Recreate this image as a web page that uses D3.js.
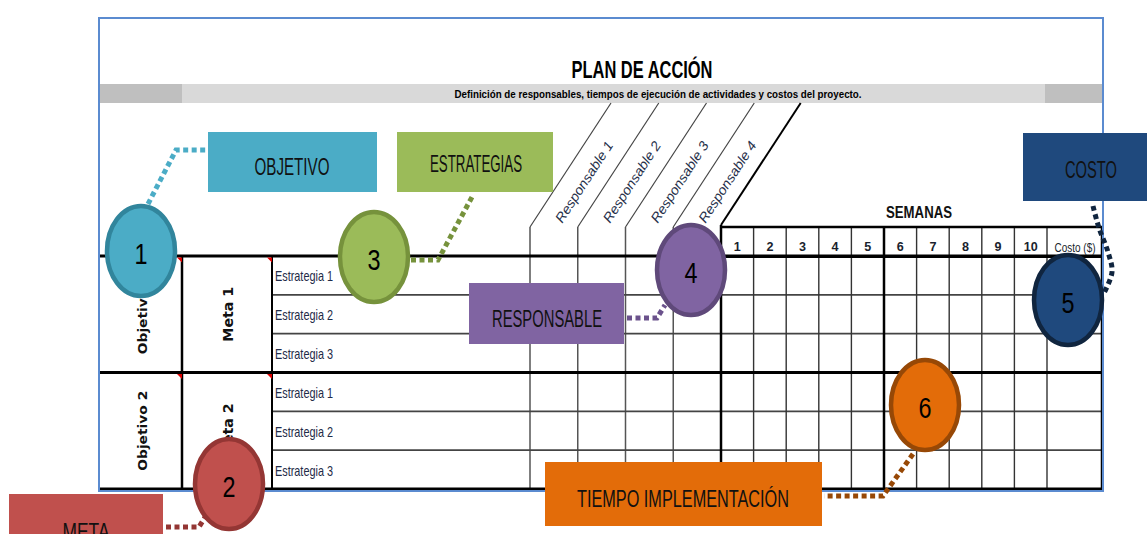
<!DOCTYPE html>
<html><head><meta charset="utf-8">
<script src="https://cdn.jsdelivr.net/npm/d3@7"></script>
<style>html,body{margin:0;padding:0;background:#fff;overflow:hidden}</style>
</head><body>
<svg id="c" width="1147" height="534"></svg>
<script>
// ---- data ----
const titulo = "PLAN DE ACCIÓN";
const subtitulo = "Definición de responsables, tiempos de ejecución de actividades y costos del proyecto.";
const objetivos = ["Objetivo 1", "Objetivo 2"];
const metas = ["Meta 1", "Meta 2"];
const estrategias = ["Estrategia 1", "Estrategia 2", "Estrategia 3"];
const responsables = ["Responsable 1", "Responsable 2", "Responsable 3", "Responsable 4"];
const semanas = ["1", "2", "3", "4", "5", "6", "7", "8", "9", "10"];
const semanasTitulo = "SEMANAS";
const costoTitulo = "Costo ($)";
const calloutNumeros = ["1", "2", "3", "4", "5", "6"];
const calloutEtiquetas = ["OBJETIVO", "META", "ESTRATEGIAS", "RESPONSABLE", "COSTO", "TIEMPO IMPLEMENTACIÓN"];

// ---- layout (styles / positions) ----
const F = "'Liberation Sans Narrow','Liberation Sans',Arial,sans-serif";
const FB = "'DejaVu Sans',Verdana,sans-serif";
const svg = d3.select("#c");
const frame = {x0: 99, y0: 18, x1: 1103, y1: 491};
const T = {top: 256, bottom: 489, head: 227};
const col = {obj: [99, 182], meta: [182, 272], estr: [272, 530], resp: [530, 721], wk: [721, 1047], costo: [1047, 1102]};

const rowKeys = [];
objetivos.forEach((o, i) => estrategias.forEach((e, j) => rowKeys.push(i + "-" + j)));
const y = d3.scaleBand().domain(rowKeys).range([T.top, T.bottom]);
const xr = d3.scaleBand().domain(responsables).range(col.resp);
const xw = d3.scaleBand().domain(semanas).range(col.wk);

function txt(g, o) {
  const t = g.append("text").attr("x", o.x).attr("y", o.y)
    .attr("font-family", o.font || F).attr("font-size", o.size || 12)
    .attr("font-weight", o.weight || "normal").attr("font-style", o.style || "normal")
    .attr("fill", o.fill || "#111").attr("text-anchor", o.anchor || "middle")
    .text(o.text);
  if (o.baseline) t.attr("dominant-baseline", o.baseline);
  if (o.len) t.attr("textLength", o.len).attr("lengthAdjust", o.adjust || "spacingAndGlyphs");
  if (o.rotate !== undefined) t.attr("transform", `rotate(${o.rotate},${o.x},${o.y})`);
  return t;
}
function line(g, x1, y1, x2, y2, w, c) {
  g.append("line").attr("x1", x1).attr("y1", y1).attr("x2", x2).attr("y2", y2)
    .attr("stroke", c || "#000").attr("stroke-width", w || 1);
}

svg.append("rect").attr("width", 1147).attr("height", 534).attr("fill", "#fff");

// band
const gb = svg.append("g");
gb.append("rect").attr("x", 99).attr("y", 84).attr("width", 1003).attr("height", 19).attr("fill", "#d9d9d9");
gb.append("rect").attr("x", 99).attr("y", 84).attr("width", 83).attr("height", 19).attr("fill", "#bfbfbf");
gb.append("rect").attr("x", 1045).attr("y", 84).attr("width", 57).attr("height", 19).attr("fill", "#bfbfbf");
txt(gb, {x: 642, y: 78, text: titulo, size: 24, weight: "bold", len: 141, fill: "#000"});
txt(gb, {x: 658, y: 98, text: subtitulo, size: 11.5, weight: "bold", len: 407, fill: "#000"});

// responsable diagonal header
const k = 81 / 124;
const ang = -Math.atan2(124, 81) * 180 / Math.PI;
const gd = svg.append("g");
responsables.forEach(r => {
  const x0 = xr(r);
  line(gd, x0, T.head, x0 + (T.head - 103) * k, 103, 1.2, "#444");
  line(gd, x0, T.head, x0, T.bottom, 1.5, "#555");
  const cx = x0 + xr.bandwidth() / 2 + (T.head - 182) * k + 1;
  txt(gd, {x: cx, y: 182, text: r, size: 13.5, style: "italic", len: 94, adjust: "spacingAndGlyphs",
    fill: "#27304a", baseline: "central", rotate: ang});
});
line(gd, col.resp[1], T.head - 2, col.resp[1] + (T.head - 2 - 103) * k, 103, 2, "#000");

// grid
const gg = svg.append("g");
rowKeys.forEach((rk, i) => {
  if (i % 3 !== 0) line(gg, col.estr[0], y(rk), col.costo[1], y(rk), 1.6, "#444");
});
semanas.forEach((s, i) => {
  if (i === 0) return;
  const thick = i === 5;
  line(gg, xw(s), T.head, xw(s), T.bottom, thick ? 2.5 : 1.4, thick ? "#000" : "#333");
});
line(gg, col.costo[0], T.head, col.costo[0], T.bottom, 1.4, "#333");
line(gg, col.costo[1], T.head, col.costo[1], T.bottom, 2.5, "#000");
line(gg, col.resp[1], T.head - 2, col.resp[1], T.bottom, 2.5, "#000");
line(gg, col.meta[0], T.top, col.meta[0], T.bottom, 2.5, "#000");
line(gg, col.estr[0], T.top, col.estr[0], T.bottom, 2, "#000");
line(gg, col.obj[0], T.top, col.obj[0], T.bottom, 2, "#000");
line(gg, col.resp[1], T.head, col.costo[1] + 1, T.head, 2.5, "#000");
objetivos.forEach((o, i) => {
  const yy = y(i + "-0");
  line(gg, col.obj[0], yy, col.costo[1] + 1, yy, 2.8, "#000");
});
line(gg, col.obj[0], T.bottom, col.costo[1] + 1, T.bottom, 2.8, "#000");
line(gg, col.resp[1], y("0-0") + 1, col.costo[1], y("0-0") + 1, 2.2, "#000");

// week labels
semanas.forEach(s => txt(gg, {x: xw(s) + xw.bandwidth() / 2, y: 251, text: s, size: 13.5, weight: "bold",
  fill: "#1a1f2e", len: s.length > 1 ? 14 : 7}));
txt(gg, {x: (col.costo[0] + col.costo[1]) / 2 + 0.5, y: 252, text: costoTitulo, size: 13.5, fill: "#1a1f2e", len: 41});
txt(gg, {x: 919, y: 218, text: semanasTitulo, size: 17, weight: "bold", len: 66, fill: "#111"});

// red markers
objetivos.forEach((o, i) => {
  const yy = y(i + "-0") + 1.5;
  [col.meta[0], col.estr[0]].forEach(xx => {
    gg.append("path").attr("d", `M${xx - 5},${yy}L${xx},${yy}L${xx},${yy + 5}Z`).attr("fill", "#e00000");
  });
});

// left labels
objetivos.forEach((o, i) => {
  const y0 = y(i + "-0"), y1 = y(i + "-2") + y.bandwidth();
  const cy = (y0 + y1) / 2;
  txt(gg, {x: 142, y: cy, text: o, font: FB, size: 13, weight: "bold", len: 80, baseline: "central", rotate: -90, fill: "#111"});
  txt(gg, {x: 228, y: cy, text: metas[i], font: FB, size: 13.5, weight: "bold", len: 55, baseline: "central", rotate: -90, fill: "#111"});
  estrategias.forEach((e, j) => {
    const rk = i + "-" + j;
    txt(gg, {x: 275, y: y(rk) + y.bandwidth() / 2 + 6, text: e, size: 14.5, anchor: "start", len: 58, fill: "#1e2b48"});
  });
});

// frame
svg.append("rect").attr("x", frame.x0).attr("y", frame.y0).attr("width", frame.x1 - frame.x0)
  .attr("height", frame.y1 - frame.y0).attr("fill", "none").attr("stroke", "#5b8bd0").attr("stroke-width", 2);

// callouts
const cl = [
  {fill: "#4bacc6", stroke: "#31859c", dot: "#4bacc6", c: [141, 251], box: [208, 132, 377, 192], tx: 292, ty: 175, len: 75,
   path: [[148, 204], [176, 150], [206, 150]]},
  {fill: "#c0504d", stroke: "#943634", dot: "#943634", c: [229, 484], box: [9, 494, 163, 570], tx: 86, ty: 540, len: 47,
   path: [[166, 527], [199, 527], [207, 514]]},
  {fill: "#9bbb59", stroke: "#76923c", dot: "#76923c", c: [374, 257], box: [397, 132, 553, 192], tx: 476, ty: 172, len: 92,
   path: [[411, 260], [438, 260], [472, 197]]},
  {fill: "#8064a2", stroke: "#5f497a", dot: "#6b528c", c: [691, 270], box: [469, 283, 624, 344], tx: 547, ty: 327, len: 110,
   path: [[627, 318], [657, 318], [665, 305]]},
  {fill: "#1f497d", stroke: "#10253f", dot: "#10253f", c: [1068, 300], box: [1023, 133, 1150, 201], tx: 1091, ty: 178, len: 52,
   path: [[1093, 206], [1099, 228], [1108, 252], [1112, 272], [1104, 293]], curve: true},
  {fill: "#e36c09", stroke: "#974806", dot: "#974806", c: [925, 405], box: [545, 462, 822, 526], tx: 683, ty: 507, len: 212,
   path: [[913, 454], [883, 496], [824, 496]]}
];
const gc = svg.append("g");
cl.forEach(d => {
  const gen = d3.line().curve(d.curve ? d3.curveCatmullRom : d3.curveLinear);
  gc.append("path").attr("d", gen(d.path)).attr("fill", "none").attr("stroke", d.dot)
    .attr("stroke-width", 5).attr("stroke-dasharray", "5,3.5");
});
cl.forEach((d, i) => {
  gc.append("rect").attr("x", d.box[0]).attr("y", d.box[1]).attr("width", d.box[2] - d.box[0])
    .attr("height", d.box[3] - d.box[1]).attr("fill", d.fill);
  txt(gc, {x: d.tx, y: d.ty, text: calloutEtiquetas[i], size: 24, len: d.len, fill: "#111"});
});
cl.forEach((d, i) => {
  gc.append("ellipse").attr("cx", d.c[0]).attr("cy", d.c[1]).attr("rx", 34).attr("ry", 45)
    .attr("fill", d.fill).attr("stroke", d.stroke).attr("stroke-width", 4.5);
  txt(gc, {x: d.c[0], y: d.c[1] + 13, text: calloutNumeros[i], size: 29, len: 13, fill: "#000"});
});
</script>
</body></html>
